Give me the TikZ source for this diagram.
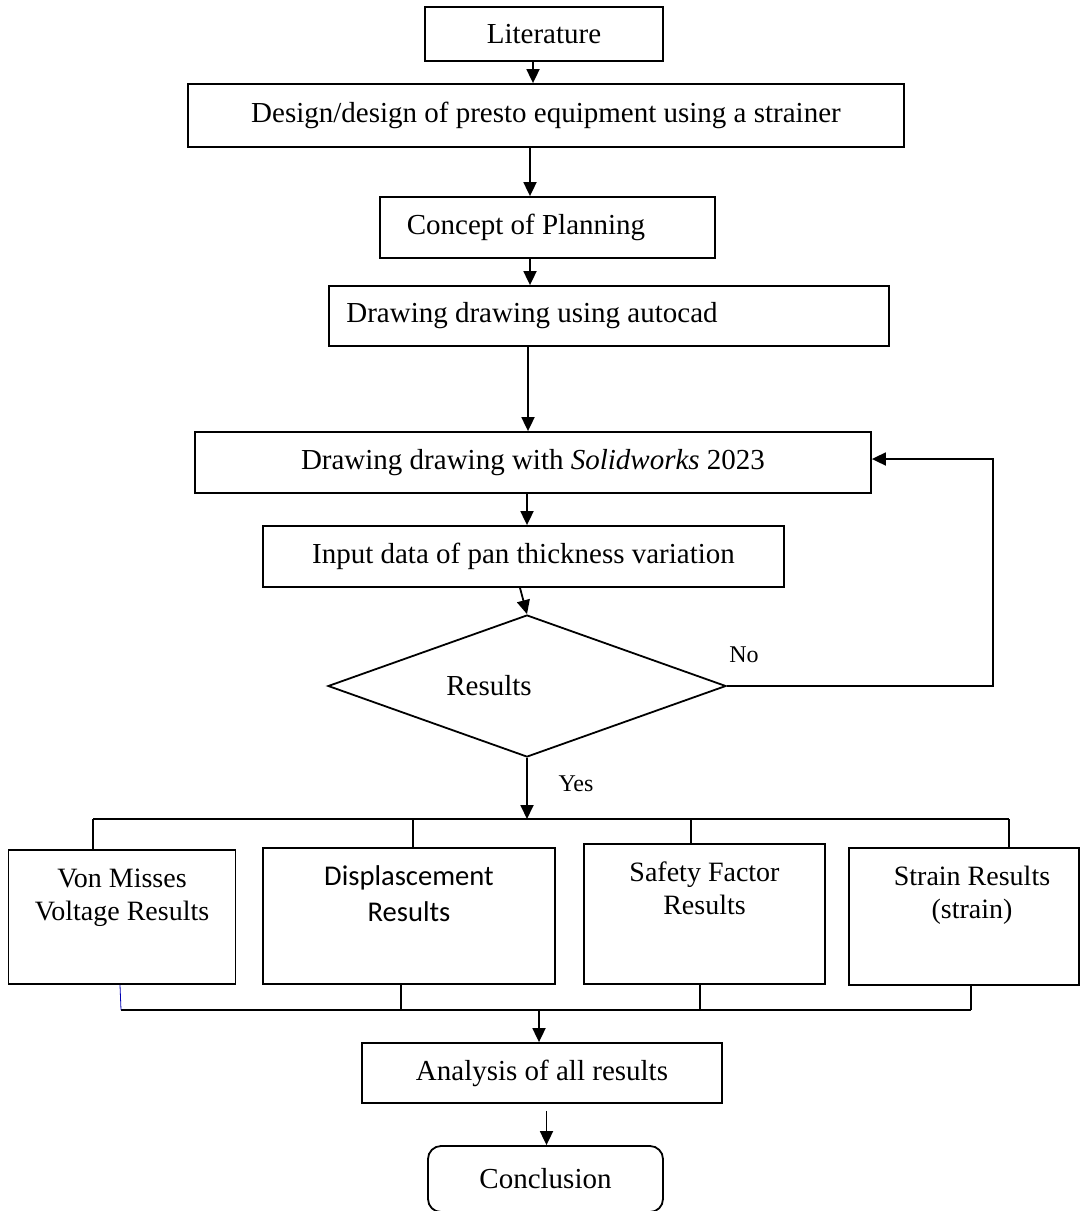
\documentclass[tikz,border=0pt]{standalone}
\usepackage{fontspec}
\setmainfont{Liberation Serif}
\newfontfamily\calfont{Carlito}
\usetikzlibrary{shapes.geometric,arrows.meta}

\begin{document}
\begin{tikzpicture}[x=0.5pt, y=-0.5pt, line width=0.9pt, >={Triangle[length=7pt,width=6.5pt]},
        box/.style={draw, inner sep=0pt, font=\fontsize{14.5}{17}\selectfont},
        resbox/.style={draw, anchor=north, align=center, inner xsep=0pt, inner ysep=9pt, text height=26.5pt, font=\fontsize{14}{16.5}\selectfont},
        decision/.style={draw, diamond, aspect=2.8, inner sep=0pt, font=\fontsize{14.5}{17}\selectfont},
        tag/.style={inner sep=0pt, font=\fontsize{12}{14}\selectfont}]
        \useasboundingbox (0,0) rectangle (1083,1211);

        \node[box, minimum width=119pt, minimum height=27pt] (Literature) at (544,34) {Literature};
        \node[box, minimum width=358pt, minimum height=31.5pt] (Design) at (546,115.5) {Design/design of presto equipment using a strainer};
        \node[box, minimum width=167.5pt, minimum height=30.5pt] (Concept) at (547.5,227.5) {Concept of Planning\hspace*{21.5pt}};
        \node[box, minimum width=280pt, minimum height=30pt] (Autocad) at (609,316) {Drawing drawing using autocad\hspace*{77pt}};
        \node[box, minimum width=338pt, minimum height=30.5pt] (Solidworks) at (533,462.5) {Drawing drawing with \textit{Solidworks} 2023};
        \node[box, minimum width=260.5pt, minimum height=30.5pt] (InputData) at (523.5,556.5) {Input data of pan thickness variation};
        \node[decision, minimum width=199pt, minimum height=71pt] (Results) at (527,686) {Results\hspace*{38pt}};

        \node[resbox, minimum width=113.5pt, text depth=22.5pt] (VonMises) at (122,849) {Von Misses\\Voltage Results};
        \node[resbox, minimum width=146pt, text height=28pt, text depth=22pt, font=\calfont\fontsize{14.3}{18}\selectfont] (Displacement) at (409,847) {Displascement\\Results};
        \node[resbox, minimum width=120.5pt, text depth=25.5pt] (SafetyFactor) at (704.5,843) {Safety Factor\\Results};
        \node[resbox, minimum width=115pt, text depth=24pt] (Strain) at (964,847) {\hspace*{8pt}Strain Results\\\hspace*{8pt}(strain)};

        \node[box, minimum width=180pt, minimum height=30pt] (Analysis) at (542,1073) {Analysis of all results};
        \node[box, rounded corners=6.5pt, minimum width=117.5pt, minimum height=33pt] (Conclusion) at (545.5,1179) {Conclusion};

        \node[tag] (No) at (744,655) {No};
        \node[tag] (Yes) at (576,784) {Yes};

        \coordinate (Feedback) at (993,459);
        \coordinate (SplitLeft) at (93,819);
        \coordinate (SplitRight) at (1009,819);
        \coordinate (JoinLeft) at (121,1010);
        \coordinate (JoinRight) at (971,1010);

        \draw[->] ([xshift=-5.5pt]Literature.south) -- ([xshift=-5.5pt]Literature.south |- Design.north);
        \draw[->] ([xshift=-8pt]Design.south) -- ([xshift=-8pt]Design.south |- Concept.north);
        \draw[->] ([xshift=-8.75pt]Concept.south) -- ([xshift=-8.75pt]Concept.south |- Autocad.north);
        \draw[->] ([xshift=-40.5pt]Autocad.south) -- ([xshift=-40.5pt]Autocad.south |- Solidworks.north);
        \draw[->] ([xshift=-3pt]Solidworks.south) -- ([xshift=-3pt]Solidworks.south |- InputData.north);
        \draw[->] ([xshift=-1.75pt]InputData.south) -- (Results.north);
        \draw[->] (Results.east) -| (Feedback) -- (Feedback -| Solidworks.east);
        \draw[->] (Results.south) -- (Results.south |- SplitLeft);

        \draw (SplitLeft) -- (SplitRight);
        \draw (SplitLeft) -- (SplitLeft |- VonMises.north);
        \draw ([xshift=2pt]Displacement.north |- SplitLeft) -- ([xshift=2pt]Displacement.north);
        \draw ([xshift=-6.75pt]SafetyFactor.north |- SplitLeft) -- ([xshift=-6.75pt]SafetyFactor.north);
        \draw (SplitRight) -- (SplitRight |- Strain.north);

        \draw (JoinLeft) -- (JoinRight);
        \draw[blue!70!black, line width=0.4pt] ([xshift=-1pt]VonMises.south) -- (JoinLeft);
        \draw ([xshift=-4pt]Displacement.south) -- ([xshift=-4pt]Displacement.south |- JoinLeft);
        \draw ([xshift=-2.25pt]SafetyFactor.south) -- ([xshift=-2.25pt]SafetyFactor.south |- JoinLeft);
        \draw (JoinRight |- Strain.south) -- (JoinRight);

        \draw[->] ([xshift=-1.5pt]Analysis.north |- JoinLeft) -- ([xshift=-1.5pt]Analysis.north);
        \draw[->] ([xshift=2.25pt,yshift=-3.5pt]Analysis.south) -- ([xshift=2.25pt]Analysis.south |- Conclusion.north);
    \end{tikzpicture}
\end{document}
